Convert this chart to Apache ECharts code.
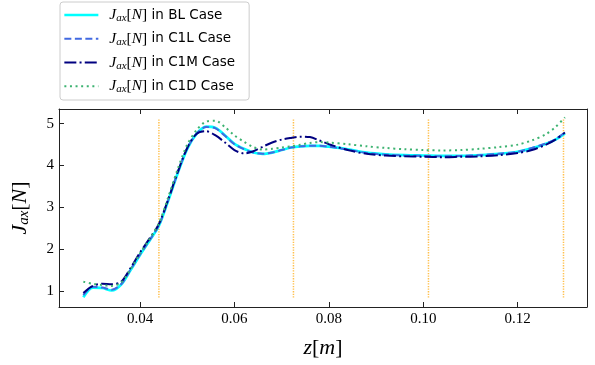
<!DOCTYPE html>
<html><head><meta charset="utf-8">
<script src="https://cdn.jsdelivr.net/npm/echarts@6/dist/echarts.min.js"></script>
<style>html,body{margin:0;padding:0;background:#fff}#c{width:595px;height:365px}</style>
</head><body><div id="c"></div>
<script>
const zValues = [0.028,0.030,0.032,0.034,0.036,0.038,0.040,0.042,0.044,0.046,0.048,0.050,0.052,0.054,0.056,0.058,0.060,0.062,0.064,0.066,0.068,0.070,0.072,0.074,0.076,0.078,0.080,0.084,0.088,0.092,0.096,0.100,0.104,0.108,0.112,0.116,0.120,0.123,0.126,0.128,0.130];
const blValues  = [0.85,1.08,1.07,1.01,1.15,1.50,1.86,2.20,2.56,3.17,3.82,4.40,4.76,4.93,4.90,4.72,4.52,4.40,4.31,4.28,4.31,4.37,4.43,4.46,4.47,4.47,4.45,4.39,4.31,4.27,4.25,4.24,4.23,4.23,4.25,4.28,4.33,4.41,4.52,4.62,4.77];
const c1lValues = [0.90,1.10,1.08,1.03,1.16,1.51,1.87,2.21,2.57,3.18,3.83,4.41,4.76,4.92,4.89,4.71,4.51,4.39,4.31,4.28,4.31,4.37,4.43,4.46,4.47,4.47,4.45,4.38,4.30,4.26,4.24,4.23,4.22,4.23,4.25,4.28,4.33,4.42,4.53,4.63,4.79];
const c1mValues = [0.95,1.12,1.17,1.16,1.22,1.55,1.92,2.25,2.60,3.20,3.85,4.42,4.76,4.82,4.72,4.55,4.37,4.29,4.34,4.45,4.55,4.62,4.66,4.69,4.68,4.60,4.51,4.37,4.28,4.24,4.22,4.21,4.20,4.21,4.22,4.25,4.30,4.37,4.50,4.62,4.79];
const c1dValues = [1.22,1.17,1.14,1.12,1.20,1.52,1.90,2.24,2.62,3.25,3.92,4.50,4.85,5.05,5.07,4.92,4.72,4.57,4.44,4.38,4.40,4.43,4.46,4.50,4.54,4.56,4.55,4.51,4.46,4.42,4.39,4.37,4.36,4.37,4.40,4.44,4.50,4.60,4.75,4.92,5.15];
const caseNames = ['BL','C1L','C1M','C1D'];
const sectionZ = [0.0440,0.0725,0.1011,0.1297];
const sectionSpan = [0.84,5.10];
const xTicks = [0.04,0.06,0.08,0.10,0.12];
const yTicks = [1,2,3,4,5];

const serif = '"Liberation Serif", serif';
const pairs = v => zValues.map((z,i)=>[z,v[i]]);
const chart = echarts.init(document.getElementById('c'));
const mathRich = (size) => ({
  j:{fontFamily:serif,fontStyle:'italic',fontSize:size,color:'#000',lineHeight:size+2},
  s:{fontFamily:serif,fontStyle:'italic',fontSize:Math.round(size*0.7),color:'#000',verticalAlign:'bottom',lineHeight:Math.round(size*0.5)},
  b:{fontFamily:serif,fontSize:size,color:'#000',lineHeight:size+2},
  t:{fontFamily:'"DejaVu Sans", sans-serif',fontSize:13.5,color:'#000',lineHeight:16}
});
const jaxLabel = '{j|J}{s|ax}{b|[}{j|N}{b|]}';
const styles = [
  {color:'#00ffff',width:2.7,type:'solid'},
  {color:'#4169e1',width:2,type:[7,3.5]},
  {color:'#000080',width:2,type:[12,3.2,2,3.2]},
  {color:'#3cb371',width:2,type:[2,3.6]}
];
const allValues = [blValues,c1lValues,c1mValues,c1dValues];
const series = sectionZ.map(z=>({
  type:'line', data:[[z,sectionSpan[0]],[z,sectionSpan[1]]], symbol:'none', silent:true,
  lineStyle:{color:'rgba(255,165,0,0.7)',width:1.5,type:[1.3,1.3]}, z:1
}));
caseNames.forEach((n,i)=>series.push({
  name:n, type:'line', data:pairs(allValues[i]), symbol:'none', smooth:0.3, z:2+i,
  lineStyle:{color:styles[i].color,width:styles[i].width,type:styles[i].type,cap:'butt'},
  itemStyle:{color:styles[i].color}
}));
const axisLine = {show:true,onZero:false,lineStyle:{color:'#222',width:1}};
chart.setOption({
  animation:false,
  grid:{left:59,right:8,top:109,bottom:58},
  legend:{
    orient:'vertical', left:60, top:2,
    data:caseNames.map((n,i)=>({name:n, itemStyle:{opacity:0}, lineStyle:{color:styles[i].color,width:styles[i].width,type:styles[i].type}})),
    itemWidth:34, itemHeight:14, itemGap:7,
    padding:[5,14,5,3],
    backgroundColor:'rgba(255,255,255,0.8)', borderColor:'#cccccc', borderWidth:1, borderRadius:3,
    formatter: n => jaxLabel + '{t| in ' + n + ' Case}',
    textStyle:{rich:mathRich(15.5), padding:[0,0,0,6]}
  },
  xAxis:[{
    type:'value', min:0.02284, max:0.13468, position:'bottom',
    axisLine, splitLine:{show:false},
    axisTick:{inside:true,length:5,customValues:xTicks,lineStyle:{color:'#222'}},
    axisLabel:{customValues:xTicks,formatter:v=>v.toFixed(2),fontFamily:serif,fontSize:15,color:'#000',margin:5},
    name:'{m|z}{b|[}{m|m}{b|]}', nameLocation:'middle', nameGap:30,
    nameTextStyle:{rich:{m:{fontFamily:serif,fontStyle:'italic',fontSize:22,color:'#000'},b:{fontFamily:serif,fontSize:22,color:'#000'}}}
  },{
    type:'value', min:0.02284, max:0.13468, position:'top',
    axisLine, splitLine:{show:false},
    axisTick:{inside:true,length:5,customValues:xTicks,lineStyle:{color:'#222'}},
    axisLabel:{show:false}
  }],
  yAxis:[{
    type:'value', min:0.615, max:5.352, position:'left',
    axisLine, splitLine:{show:false},
    axisTick:{inside:true,length:5,customValues:yTicks,lineStyle:{color:'#222'}},
    axisLabel:{customValues:yTicks,formatter:v=>String(v),fontFamily:serif,fontSize:15,color:'#000',margin:5},
    name:jaxLabel, nameLocation:'middle', nameGap:27, nameRotate:90,
    nameTextStyle:{rich:mathRich(22)}
  },{
    type:'value', min:0.615, max:5.352, position:'right',
    axisLine, splitLine:{show:false}, axisTick:{show:false}, axisLabel:{show:false}
  }],
  series
});
</script></body></html>
